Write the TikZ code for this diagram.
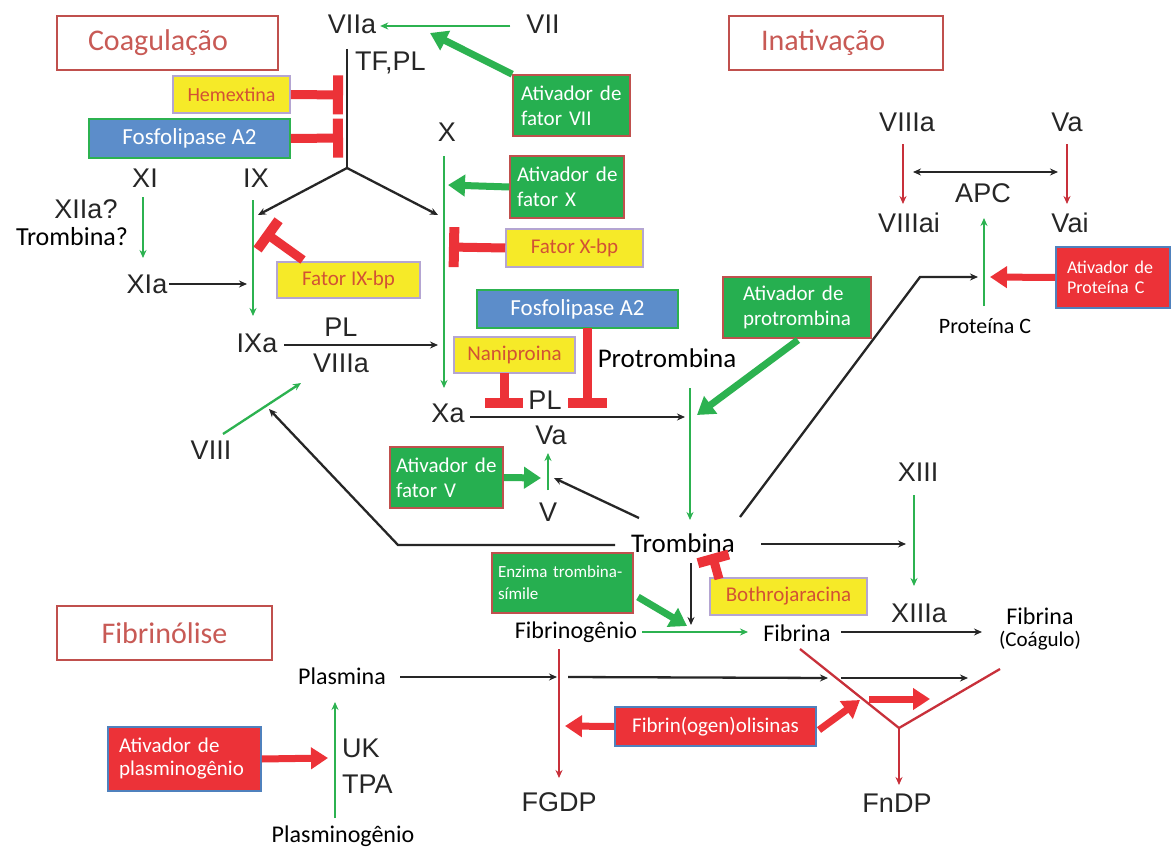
\documentclass[tikz,border=0pt]{standalone}
\usepackage{fontspec}
\setmainfont{Carlito}
\newfontfamily\arialf{Liberation Sans}
\usetikzlibrary{arrows.meta}
\definecolor{gln}{RGB}{44,178,80}
\definecolor{gfill}{RGB}{38,175,80}
\definecolor{rbr}{RGB}{192,80,77}
\definecolor{redc}{RGB}{236,50,56}
\definecolor{dred}{RGB}{200,48,58}
\definecolor{bluf}{RGB}{92,141,202}
\definecolor{blub}{RGB}{79,129,189}
\definecolor{yelf}{RGB}{246,234,40}
\definecolor{lav}{RGB}{180,165,210}
\definecolor{ytxt}{RGB}{210,82,52}
\definecolor{txt}{RGB}{38,38,38}
\definecolor{ttl}{RGB}{200,90,85}
\begin{document}
\begin{tikzpicture}[x=1pt,y=-1pt,
 lab/.style={font=\arialf\fontsize{27}{30}\selectfont,text=txt,inner sep=0pt},
 cal/.style={font=\fontsize{24}{28}\selectfont,text=black,inner sep=0pt},
 ttlbox/.style={draw=rbr,line width=2.2pt,text=ttl,font=\fontsize{30}{34}\selectfont,inner sep=0pt},
 bx/.style={line width=1.6pt,inner ysep=0pt,font=\fontsize{21}{25}\selectfont},
 gbox/.style={bx,fill=gfill,draw=rbr,text=white,align=left,inner xsep=8pt},
 ybox/.style={bx,fill=yelf,draw=lav,text=ytxt,align=center},
 bbox/.style={bx,fill=bluf,draw=gln,text=white,align=center,font=\fontsize{23}{27}\selectfont},
 rbox/.style={bx,fill=redc,draw=blub,text=white,align=left,inner xsep=11pt},
 tarr/.style={line width=2.3pt,-{Stealth[length=8pt,width=7pt]}},
 gthin/.style={tarr,draw=gln},
 bthin/.style={tarr,draw=txt},
 rthin/.style={tarr,draw=dred},
 gthick/.style={draw=gln,line width=7pt,-{Triangle[length=17pt,width=21pt]}},
 rthick/.style={draw=redc,line width=7pt,-{Triangle[length=17pt,width=21pt]}},
 inh/.style={draw=redc,line width=9pt,-{Rectangle[length=10pt,width=#1]}},
 inh/.default=40pt
]
\fill[white] (0,0) rectangle (1171,851);
\useasboundingbox (0,0) rectangle (1171,851);

% titles
\node[ttlbox,minimum height=54pt,align=left,text width=159pt,inner xsep=31pt] (tcoag) at (167.5,43) {Coagulação};
\node[ttlbox,minimum height=54pt,align=left,text width=150pt,inner xsep=32pt] (tinat) at (836,43) {Inativação};
\node[ttlbox,minimum width=215pt,minimum height=54pt] (tfib) at (164.5,633) {Fibrinólise};

% labels
\node[lab] (VIIa) at (352,24) {VIIa};
\node[lab] (VII) at (543,24) {VII};
\node[lab,anchor=west] (TFPL) at (355,63) {TF,PL};
\node[lab] (X) at (447,132) {X};
\node[lab] (XI) at (145,178) {XI};
\node[lab] (IX) at (256,178) {IX};
\node[lab] (XIIa) at (86,209) {XIIa?};
\node[cal,font=\fontsize{26}{30}\selectfont] (Trq) at (72,237) {Trombina?};
\node[lab] (XIa) at (147,284) {XIa};
\node[lab] (IXa) at (257,343) {IXa};
\node[lab] (PL1) at (341,327) {PL};
\node[lab] (VIIIa1) at (341,363) {VIIIa};
\node[lab] (VIII) at (211,450) {VIII};
\node[lab] (Xa) at (448,413) {Xa};
\node[lab] (PL2) at (545,400) {PL};
\node[lab] (Va1) at (551,435) {Va};
\node[lab] (V) at (548,512) {V};
\node[cal,font=\fontsize{27}{30}\selectfont] (Protr) at (667,358) {Protrombina};
\node[cal,font=\fontsize{27}{30}\selectfont] (Tromb) at (683,543) {Trombina};
\node[lab] (VIIIa2) at (907,122) {VIIIa};
\node[lab] (Va2) at (1067,122) {Va};
\node[lab] (APC) at (983,193) {APC};
\node[lab] (VIIIai) at (909,223) {VIIIai};
\node[lab] (Vai) at (1070,223) {Vai};
\node[cal,font=\fontsize{22}{26}\selectfont] (ProtC) at (985,326) {Proteína C};
\node[lab] (XIII) at (918,472) {XIII};
\node[lab] (XIIIa) at (919,613) {XIIIa};
\node[cal] (Fgen) at (576,632) {Fibrinogênio};
\node[cal] (Fib) at (797,633) {Fibrina};
\node[cal,align=center,font=\fontsize{24}{22}\selectfont] (FibC) at (1040,629) {Fibrina\\{\fontsize{21}{22}\selectfont(Coágulo)}};
\node[cal] (Plas) at (342,676) {Plasmina};
\node[cal] (Plasg) at (343,836) {Plasminogênio};
\node[lab,anchor=west] (UK) at (342,748) {UK};
\node[lab,anchor=west] (TPA) at (342,784) {TPA};
\node[lab] (FGDP) at (559,802) {FGDP};
\node[lab] (FnDP) at (897,803) {FnDP};

% boxes
\node[ybox,minimum width=117pt,minimum height=37pt,font=\fontsize{20}{24}\selectfont] (hemex) at (231.5,94.5) {Hemextina};
\node[bbox,minimum width=201pt,minimum height=39pt] (fosf1) at (189.5,138.5) {Fosfolipase A2};
\node[gbox,minimum height=61pt,text width=101pt] (atv7) at (571.5,105.5) {Ativador~de\\fator~VII};
\node[gbox,minimum height=62pt,text width=100pt,inner xsep=7pt] (atvX) at (567,187) {Ativador~de\\fator~X};
\node[ybox,minimum width=137pt,minimum height=38pt] (fXbp) at (574.5,248) {Fator X-bp};
\node[ybox,minimum width=143pt,minimum height=36pt] (f9bp) at (348.5,280) {Fator IX-bp};
\node[bbox,minimum width=201pt,minimum height=38pt] (fosf2) at (577.5,309) {Fosfolipase A2};
\node[ybox,minimum width=121pt,minimum height=36pt] (nanip) at (514.5,355) {Naniproina};
\node[gbox,minimum height=61pt,text width=108pt,inner xsep=20pt] (atvP) at (797,307.5) {Ativador~de\\protrombina};
\node[gbox,minimum height=61pt,text width=101pt,inner xsep=6pt] (atvV) at (446.5,477.5) {Ativador~de\\fator~V};
\node[rbox,minimum height=61pt,text width=92pt,font=\fontsize{18}{20}\selectfont] (atvPC) at (1113,277.5) {Ativador~de\\Proteína~C};
\node[gbox,minimum height=60pt,text width=129pt,inner xsep=6pt,font=\fontsize{17}{22}\selectfont] (enzT) at (562.5,583) {Enzima~trombina-\\símile};
\node[ybox,minimum width=157pt,minimum height=37pt] (bothro) at (788.5,596.5) {Bothrojaracina};
\node[rbox,minimum width=201pt,minimum height=39pt,align=center] (fibrol) at (715.5,726.5) {Fibrin(ogen)olisinas};
\node[rbox,minimum height=64pt,text width=131pt,font=\fontsize{21}{23}\selectfont] (atvPl) at (184.5,759) {Ativador~de\\plasminogênio};

% coordinates
\coordinate (a7tip) at (430,33);
\coordinate (tfTop) at (347,49);
\coordinate (tfJ) at (347,168);
\coordinate (tipIX) at (258,215);
\coordinate (tipX) at (438,215);
\coordinate (hT) at (343,95);
\coordinate (fT) at (343,138);
\coordinate (xiS) at (143,197);
\coordinate (xiE) at (143,258);
\coordinate (xiaT) at (247,284);
\coordinate (ixS) at (253,200);
\coordinate (ixE) at (253,316);
\coordinate (f9s) at (303,260);
\coordinate (f9T) at (264,232);
\coordinate (ixaT) at (438,345);
\coordinate (v8s) at (223,434);
\coordinate (v8T) at (301,383);
\coordinate (xS) at (444,156);
\coordinate (xE) at (444,388);
\coordinate (axT) at (448,185);
\coordinate (fxT) at (449,247);
\coordinate (f2s) at (587,328);
\coordinate (f2T) at (587,408);
\coordinate (nS) at (504,373);
\coordinate (nT) at (504,408);
\coordinate (xaS) at (470,417);
\coordinate (xaT) at (685,417);
\coordinate (pS) at (690,388);
\coordinate (pE) at (690,520);
\coordinate (apS) at (798,340);
\coordinate (apT) at (697,415);
\coordinate (avT) at (541,478);
\coordinate (vS) at (548,490);
\coordinate (vT) at (548,453);
\coordinate (tvS) at (639,518);
\coordinate (tvT) at (554,478);
\coordinate (t8a) at (615,545);
\coordinate (t8b) at (398,545);
\coordinate (t8T) at (269,409);
\coordinate (tpS) at (740,517);
\coordinate (tpB) at (920,277);
\coordinate (tpT) at (978,277);
\coordinate (pcS) at (984,306);
\coordinate (pcT) at (984,218);
\coordinate (apcT) at (990,277);
\coordinate (r8S) at (903,144);
\coordinate (r8T) at (903,204);
\coordinate (r5S) at (1067,144);
\coordinate (r5T) at (1067,204);
\coordinate (da1) at (913,172);
\coordinate (da2) at (1058,172);
\coordinate (t13S) at (761,544);
\coordinate (t13T) at (906,544);
\coordinate (x13S) at (914,495);
\coordinate (x13T) at (914,586);
\coordinate (tdS) at (691,563);
\coordinate (tdT) at (691,625);
\coordinate (ezS) at (638,597);
\coordinate (ezT) at (687,626);
\coordinate (boS) at (719,579);
\coordinate (boT) at (712,554);
\coordinate (fgS) at (642,632);
\coordinate (fgT) at (748,632);
\coordinate (fbS) at (841,632);
\coordinate (fbT) at (982,632);
\coordinate (pl1) at (400,677);
\coordinate (pl1T) at (557,677);
\coordinate (pl2) at (568,677);
\coordinate (pl2T) at (828,678);
\coordinate (pl3) at (841,678);
\coordinate (pl3T) at (968,678);
\coordinate (fgdS) at (559,649);
\coordinate (fgdT) at (559,778);
\coordinate (vL) at (800,649);
\coordinate (vB) at (899,728);
\coordinate (vR) at (1000,669);
\coordinate (vD) at (899,785);
\coordinate (rvS) at (869,699);
\coordinate (rvT) at (930,699);
\coordinate (flT) at (565,726);
\coordinate (frS) at (819,730);
\coordinate (frT) at (860,700);
\coordinate (pgS) at (335,818);
\coordinate (pgT) at (335,702);
\coordinate (aplT) at (328,758);

% connectors
\draw[gthin] ([xshift=-16pt,yshift=-2pt]VII.west) -- ([xshift=4pt,yshift=-2pt]VIIa.east);
\draw[gthick] (atv7.north west) -- (a7tip);
\draw[txt,line width=2.3pt] (tfTop) -- (tfJ);
\draw[bthin] (tfJ) -- (tipIX);
\draw[bthin] (tfJ) -- (tipX);
\draw[inh=39pt] (hemex.east) -- (hT);
\draw[inh=39pt] (fosf1.east) -- (fT);
\draw[gthin] (xiS) -- (xiE);
\draw[bthin] ([xshift=2pt]XIa.east) -- (xiaT);
\draw[gthin] (ixS) -- (ixE);
\draw[inh=36pt] (f9s) -- (f9T);
\draw[bthin] ([xshift=7pt,yshift=-2pt]IXa.east) -- (ixaT);
\draw[gthin] (v8s) -- (v8T);
\draw[gthin] (xS) -- (xE);
\draw[gthick] (atvX.west) -- (axT);
\draw[inh] (fXbp.west) -- (fxT);
\draw[inh=39pt] (f2s) -- (f2T);
\draw[inh=38pt] (nS) -- (nT);
\draw[bthin] (xaS) -- (xaT);
\draw[gthin] (pS) -- (pE);
\draw[gthick] (apS) -- (apT);
\draw[gthick] (atvV.east) -- (avT);
\draw[gthin] (vS) -- (vT);
\draw[bthin] (tvS) -- (tvT);
\draw[bthin] (t8a) -- (t8b) -- (t8T);
\draw[bthin] (tpS) -- (tpB) -- (tpT);
\draw[gthin] (pcS) -- (pcT);
\draw[rthick] (atvPC.west) -- (apcT);
\draw[rthin] (r8S) -- (r8T);
\draw[rthin] (r5S) -- (r5T);
\draw[txt,line width=2.3pt,{Stealth[length=8pt,width=7pt]}-{Stealth[length=8pt,width=7pt]}] (da1) -- (da2);
\draw[bthin] (t13S) -- (t13T);
\draw[gthin] (x13S) -- (x13T);
\draw[bthin] (tdS) -- (tdT);
\draw[gthick] (ezS) -- (ezT);
\draw[inh=32pt] (boS) -- (boT);
\draw[gthin] (fgS) -- (fgT);
\draw[bthin] (fbS) -- (fbT);
\draw[bthin] (pl1) -- (pl1T);
\draw[bthin] (pl2) -- (pl2T);
\draw[bthin] (pl3) -- (pl3T);
\draw[rthin] (fgdS) -- (fgdT);
\draw[dred,line width=2.3pt] (vL) -- (vB) -- (vR);
\draw[rthin] (vB) -- (vD);
\draw[rthick] (rvS) -- (rvT);
\draw[rthick] (fibrol.west) -- (flT);
\draw[rthick] (frS) -- (frT);
\draw[gthin] (pgS) -- (pgT);
\draw[rthick] (atvPl.east) -- (aplT);
\end{tikzpicture}
\end{document}
